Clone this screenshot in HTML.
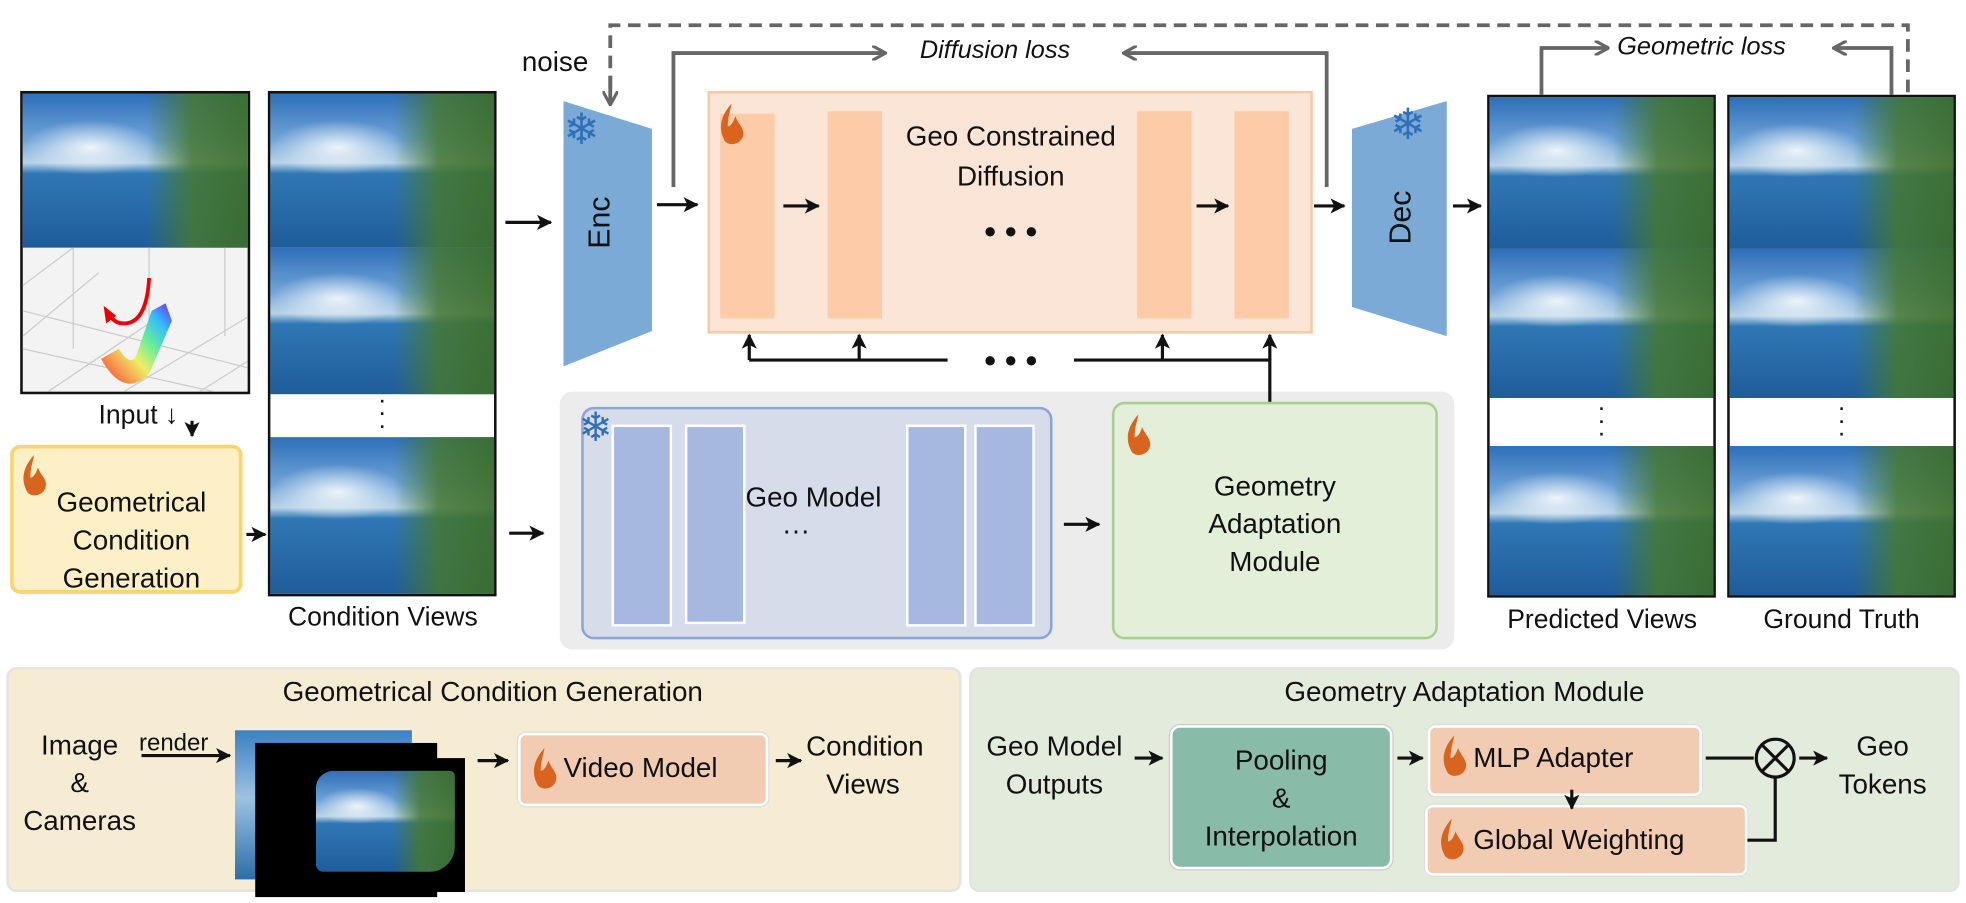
<!DOCTYPE html>
<html><head><meta charset="utf-8"><style>
html,body{margin:0;padding:0;background:#fff;width:1966px;height:903px;overflow:hidden}
#w{position:absolute;left:0;top:0;width:1556px;height:715px;transform:scale(1.26350);transform-origin:0 0;font-family:"Liberation Sans",sans-serif;color:#111}
.a{position:absolute;box-sizing:border-box}
.t{position:absolute;font-size:21px;text-align:center;line-height:1.35;white-space:nowrap}
.img{position:absolute;background:
 radial-gradient(ellipse 30% 18% at 30% 35%,rgba(255,255,255,.85),rgba(255,255,255,0) 100%),
 linear-gradient(90deg,rgba(0,0,0,0) 55%,rgba(70,120,50,.85) 75%,rgba(60,110,40,.9) 100%),
 linear-gradient(180deg,#2f6fb8 0%,#6ea3d8 30%,#b9d3e8 45%,#2f78b5 52%,#1f5c9a 100%);}
.bar{position:absolute;box-sizing:border-box}
</style></head><body><div id="w">

<!-- Input panel -->
<div class="a" style="left:16px;top:72px;width:182px;height:240px;border:2px solid #111;background:#f3f3f3"></div>
<div class="img" style="left:18px;top:74px;width:178px;height:122px"></div>
<svg class="a" style="left:18px;top:196px" width="178" height="114">
<g stroke="#ccc" fill="none" stroke-width="1"><path d="M0 30 L40 0 M0 70 L60 20 M20 114 L100 60 M80 114 L178 55 M140 114 L178 90 M0 80 L178 120 M0 50 L178 95 M40 0 L40 80 M100 0 L100 60 M160 0 L160 70"/></g>
<defs><linearGradient id="rb" x1="0" y1="1" x2="1" y2="0"><stop offset="0" stop-color="#f33"/><stop offset=".4" stop-color="#ee6"/><stop offset=".6" stop-color="#6e9"/><stop offset=".8" stop-color="#3bf"/><stop offset="1" stop-color="#72f"/></linearGradient></defs>
<path d="M62 88 Q80 120 100 100 L118 58 L113 44 L102 50 L90 85 Q85 95 76 80 Z" fill="url(#rb)"/>
<path d="M100 24 Q98 60 80 60 Q72 60 68 52" stroke="#e00" stroke-width="3" fill="none"/>
<path d="M64 46 L66 60 L74 54 Z" fill="#e00"/>
</svg>
<div class="t" style="left:78px;top:315px">Input ↓</div>

<!-- Geometrical condition generation -->
<div class="a" style="left:8px;top:352px;width:184px;height:118px;border:3px solid #f8d66e;background:#fdf0c6;border-radius:8px"></div>
<div class="t" style="left:14px;top:383px;width:180px;font-size:22px;line-height:30px">Geometrical<br>Condition<br>Generation</div>
<svg class="a" style="left:14px;top:358px" width="26" height="36"><path d="M13 2 C4 12 2 22 8 32 C12 36 20 34 22 28 C24 22 18 18 16 12 C14 18 12 20 10 20 C10 12 12 8 13 2 Z" fill="#d8641e"/></svg>

<!-- Condition views -->
<div class="a" style="left:212px;top:72px;width:181px;height:400px;border:2px solid #111;background:#fff"></div>
<div class="img" style="left:214px;top:74px;width:177px;height:122px"></div>
<div class="img" style="left:214px;top:196px;width:177px;height:116px"></div>
<div class="t" style="left:214px;top:312px;width:177px;line-height:10px;font-size:20px">·<br>·<br>·</div>
<div class="img" style="left:214px;top:346px;width:177px;height:124px"></div>
<div class="t" style="left:212px;top:475px;width:182px">Condition Views</div>

<!-- Predicted / GT -->
<div class="a" style="left:1177px;top:75px;width:181px;height:398px;border:2px solid #111;background:#fff"></div>
<div class="img" style="left:1179px;top:77px;width:177px;height:120px"></div>
<div class="img" style="left:1179px;top:197px;width:177px;height:118px"></div>
<div class="t" style="left:1179px;top:318px;width:177px;line-height:10px;font-size:20px">·<br>·<br>·</div>
<div class="img" style="left:1179px;top:353px;width:177px;height:118px"></div>
<div class="t" style="left:1168px;top:477px;width:200px">Predicted Views</div>
<div class="a" style="left:1367px;top:75px;width:181px;height:398px;border:2px solid #111;background:#fff"></div>
<div class="img" style="left:1369px;top:77px;width:177px;height:120px"></div>
<div class="img" style="left:1369px;top:197px;width:177px;height:118px"></div>
<div class="t" style="left:1369px;top:318px;width:177px;line-height:10px;font-size:20px">·<br>·<br>·</div>
<div class="img" style="left:1369px;top:353px;width:177px;height:118px"></div>
<div class="t" style="left:1360px;top:477px;width:195px">Ground Truth</div>

<!-- Gray container -->
<div class="a" style="left:443px;top:310px;width:708px;height:204px;background:#ececec;border-radius:10px"></div>
<div class="a" style="left:460px;top:322px;width:373px;height:184px;background:#d7dcea;border:2px solid #8aa5d8;border-radius:10px"></div>
<div class="bar" style="left:484px;top:336px;width:48px;height:160px;background:#a6b8e0;border:2px solid #fff"></div>
<div class="bar" style="left:542px;top:336px;width:48px;height:158px;background:#a6b8e0;border:2px solid #fff"></div>
<div class="bar" style="left:717px;top:336px;width:48px;height:160px;background:#a6b8e0;border:2px solid #fff"></div>
<div class="bar" style="left:771px;top:336px;width:48px;height:160px;background:#a6b8e0;border:2px solid #fff"></div>
<div class="t" style="left:590px;top:379px;width:100px;font-size:22px">Geo Model</div>
<div class="t" style="left:600px;top:405px;width:60px;font-size:22px">···</div>
<div class="a" style="left:880px;top:318px;width:258px;height:188px;background:#e3efd9;border:2px solid #a7d08c;border-radius:10px"></div>
<div class="t" style="left:880px;top:370px;width:258px;font-size:22px;line-height:30px">Geometry<br>Adaptation<br>Module</div>
<svg class="a" style="left:888px;top:326px" width="26" height="36"><path d="M13 2 C4 12 2 22 8 32 C12 36 20 34 22 28 C24 22 18 18 16 12 C14 18 12 20 10 20 C10 12 12 8 13 2 Z" fill="#d8641e"/></svg>
<div class="t" style="left:458px;top:320px;font-size:32px;color:#2f6fb8;line-height:36px">❄</div>

<!-- Orange diffusion -->
<div class="a" style="left:560px;top:72px;width:479px;height:192px;background:#fbe5d6;border:2px solid #f8c9a5"></div>
<div class="bar" style="left:570px;top:90px;width:43px;height:162px;background:#fdcba8"></div>
<div class="bar" style="left:655px;top:88px;width:43px;height:164px;background:#fdcba8"></div>
<div class="bar" style="left:900px;top:88px;width:43px;height:164px;background:#fdcba8"></div>
<div class="bar" style="left:977px;top:88px;width:43px;height:164px;background:#fdcba8"></div>
<div class="t" style="left:690px;top:92px;width:220px;font-size:22px;line-height:32px">Geo Constrained<br>Diffusion</div>
<div class="t" style="left:760px;top:166px;width:80px;font-size:26px;font-weight:bold">• • •</div>
<svg class="a" style="left:566px;top:80px" width="26" height="36"><path d="M13 2 C4 12 2 22 8 32 C12 36 20 34 22 28 C24 22 18 18 16 12 C14 18 12 20 10 20 C10 12 12 8 13 2 Z" fill="#d8641e"/></svg>

<!-- Enc / Dec -->
<svg class="a" style="left:440px;top:70px" width="90" height="230"><polygon points="6,10 76,32 76,192 6,220" fill="#7aaad5"/></svg>
<div class="t" style="left:446px;top:84px;font-size:34px;line-height:38px;color:#2f6fb8">❄</div>
<div class="t" style="left:455px;top:160px;transform:rotate(-90deg);font-size:24px">Enc</div>
<svg class="a" style="left:1065px;top:70px" width="90" height="230"><polygon points="5,32 80,10 80,196 5,173" fill="#7aaad5"/></svg>
<div class="t" style="left:1100px;top:80px;font-size:34px;line-height:38px;color:#2f6fb8">❄</div>
<div class="t" style="left:1088px;top:156px;transform:rotate(-90deg);font-size:24px">Dec</div>

<div class="t" style="left:413px;top:34px;font-size:22px">noise</div>
<div class="t" style="left:728px;top:27px;font-size:20px;font-style:italic">Diffusion loss</div>
<div class="t" style="left:1280px;top:24px;font-size:20px;font-style:italic">Geometric loss</div>
<div class="t" style="left:760px;top:268px;width:80px;font-size:26px;font-weight:bold">• • •</div>

<!-- Bottom panels -->
<div class="a" style="left:5px;top:528px;width:756px;height:178px;background:#f5ecd3;border:2px solid #e4e4e4;border-radius:8px"></div>
<div class="a" style="left:767px;top:528px;width:784px;height:178px;background:#e3ecdc;border:2px solid #e4e4e4;border-radius:8px"></div>
<div class="t" style="left:5px;top:533px;width:770px;font-size:22px">Geometrical Condition Generation</div>
<div class="t" style="left:767px;top:533px;width:784px;font-size:22px">Geometry Adaptation Module</div>
<div class="t" style="left:18px;top:575px;width:90px;font-size:22px;line-height:30px">Image<br>&amp;<br>Cameras</div>
<div class="t" style="left:110px;top:576px;font-size:19px">render</div>
<div class="a" style="left:186px;top:578px;width:140px;height:118px;background:linear-gradient(180deg,#3c7fc4,#9cc2e4 45%,#2d6ea8)"></div>
<div class="a" style="left:202px;top:588px;width:144px;height:122px;background:#000"></div>
<div class="a" style="left:226px;top:600px;width:142px;height:106px;background:#000"></div>
<div class="img" style="left:250px;top:610px;width:110px;height:80px;border-radius:14px 4px 20px 6px"></div>
<div class="a" style="left:410px;top:580px;width:198px;height:58px;background:#f2ccb2;border:2px solid #fff;border-radius:6px;box-shadow:0 0 0 1px #ddd"></div>
<div class="t" style="left:446px;top:593px;font-size:22px">Video Model</div>
<svg class="a" style="left:418px;top:590px" width="26" height="36"><path d="M13 2 C4 12 2 22 8 32 C12 36 20 34 22 28 C24 22 18 18 16 12 C14 18 12 20 10 20 C10 12 12 8 13 2 Z" fill="#d8641e"/></svg>
<div class="t" style="left:638px;top:576px;width:90px;font-size:22px;line-height:30px">Condition<br>Views</div>

<div class="t" style="left:772px;top:576px;width:125px;font-size:22px;line-height:30px">Geo Model<br>Outputs</div>
<div class="a" style="left:926px;top:574px;width:176px;height:114px;background:#88bba8;border:2px solid #fff;border-radius:8px;box-shadow:0 0 0 1px #ccc"></div>
<div class="t" style="left:926px;top:587px;width:176px;font-size:22px;line-height:30px">Pooling<br>&amp;<br>Interpolation</div>
<div class="a" style="left:1130px;top:574px;width:217px;height:56px;background:#f2ccb2;border:2px solid #fff;border-radius:6px;box-shadow:0 0 0 1px #ddd"></div>
<div class="t" style="left:1166px;top:585px;font-size:22px">MLP Adapter</div>
<svg class="a" style="left:1138px;top:580px" width="26" height="36"><path d="M13 2 C4 12 2 22 8 32 C12 36 20 34 22 28 C24 22 18 18 16 12 C14 18 12 20 10 20 C10 12 12 8 13 2 Z" fill="#d8641e"/></svg>
<div class="a" style="left:1128px;top:637px;width:255px;height:56px;background:#f2ccb2;border:2px solid #fff;border-radius:6px;box-shadow:0 0 0 1px #ddd"></div>
<div class="t" style="left:1166px;top:650px;font-size:22px">Global Weighting</div>
<svg class="a" style="left:1136px;top:646px" width="26" height="36"><path d="M13 2 C4 12 2 22 8 32 C12 36 20 34 22 28 C24 22 18 18 16 12 C14 18 12 20 10 20 C10 12 12 8 13 2 Z" fill="#d8641e"/></svg>
<div class="t" style="left:1450px;top:576px;width:80px;font-size:22px;line-height:30px">Geo<br>Tokens</div>

<!-- connectors -->
<svg class="a" style="left:0;top:0" width="1556" height="715">
<defs><marker id="k" markerWidth="12" markerHeight="12" refX="11" refY="6" orient="auto" markerUnits="userSpaceOnUse"><path d="M0 0 L12 6 L0 12 L3 6 Z" fill="#111"/></marker>
<marker id="g" markerWidth="12" markerHeight="12" refX="10" refY="6" orient="auto" markerUnits="userSpaceOnUse"><path d="M0 0 L11 6 L0 12" stroke="#666" stroke-width="2.5" fill="none"/></marker></defs>
<g stroke="#111" stroke-width="2.5" fill="none" marker-end="url(#k)">
<path d="M152 333 V345"/>
<path d="M400 176 H436"/><path d="M520 162 H552"/><path d="M620 163 H648"/><path d="M947 163 H972"/>
<path d="M1040 163 H1064"/><path d="M1150 163 H1172"/>
<path d="M195 423 H210"/><path d="M403 422 H430"/><path d="M842 415 H870"/>
<path d="M593 285 V265"/><path d="M680 285 V265"/><path d="M920 285 V265"/><path d="M1005 285 V265"/>
<path d="M112 598 H182"/><path d="M378 602 H402"/><path d="M614 602 H634"/>
<path d="M898 600 H920"/><path d="M1106 600 H1126"/><path d="M1244 625 V640"/><path d="M1424 600 H1446"/>
</g>
<g stroke="#111" stroke-width="2.5" fill="none">
<path d="M593 285 H750 M850 285 H1005 V318"/>
<path d="M1350 600 H1388"/><path d="M1383 665 H1405 V615"/>
<circle cx="1405" cy="600" r="15" fill="#e3ecdc"/><path d="M1394 589 L1416 611 M1416 589 L1394 611"/>
</g>
<g stroke="#666" stroke-width="3" fill="none">
<path d="M483 70 V20 H1510 V75" stroke-dasharray="10,6"/>
<path d="M533 148 V42 H700" marker-end="url(#g)"/>
<path d="M1050 148 V42 H890" marker-end="url(#g)"/>
<path d="M1220 75 V38 H1272" marker-end="url(#g)"/>
<path d="M1497 75 V38 H1452" marker-end="url(#g)"/>
<path d="M483 60 V82" marker-end="url(#g)"/>
</g>
</svg>
</div></body></html>
